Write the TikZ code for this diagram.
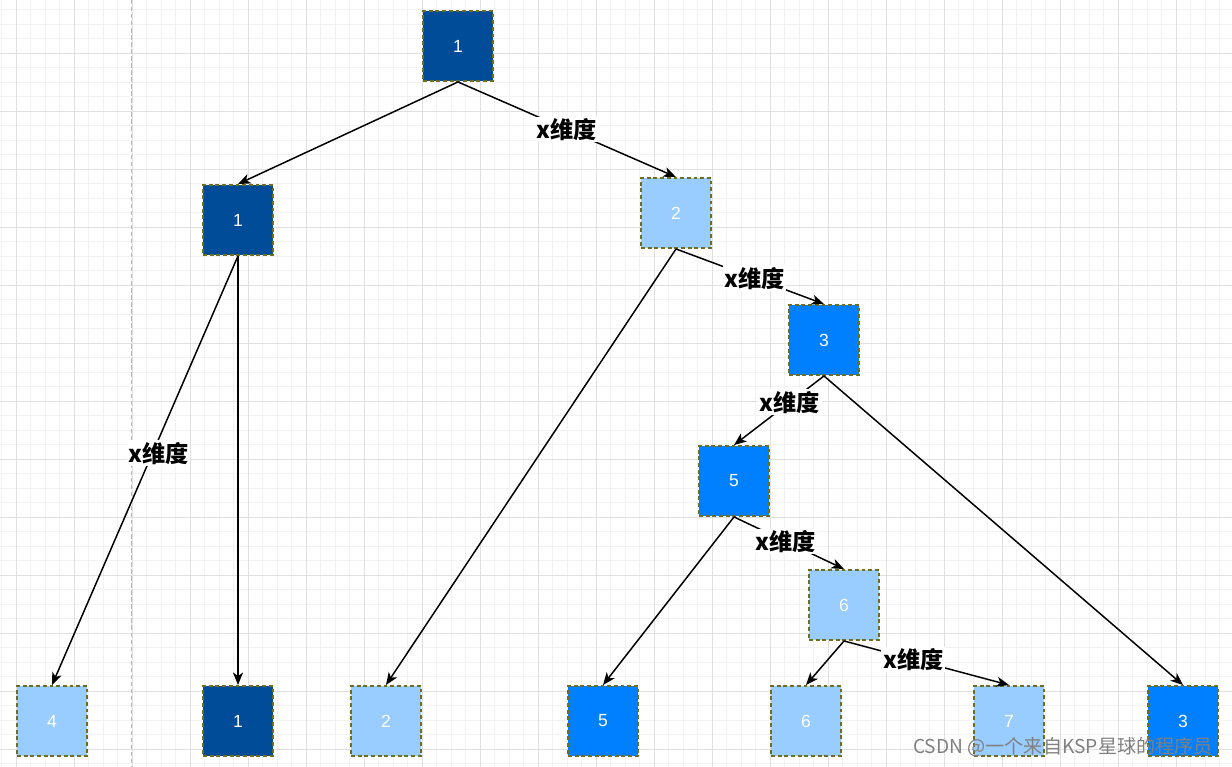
\documentclass[tikz,border=0pt]{standalone}
\usepackage{fontspec}
\setmainfont{Liberation Sans}
\newfontfamily\cjk{Noto Sans CJK SC}
\usepackage{xcolor}
\definecolor{kdDark}{HTML}{004C99}
\definecolor{kdLight}{HTML}{99CCFF}
\definecolor{kdMid}{HTML}{007FFF}
\definecolor{kdRim}{HTML}{6E6E1E}
\definecolor{gridMinor}{HTML}{F2F2F2}
\definecolor{gridMajor}{HTML}{E0E0E0}
\usetikzlibrary{arrows.meta}

\begin{document}
\begin{tikzpicture}[x=0.02cm, y=-0.02cm,
  >={Stealth[length=0.25cm, width=0.2cm, inset=0.07cm]},
  box/.style={draw=kdRim, dash pattern=on 2.2pt off 1.6pt, line width=1.1pt,
    minimum size=1.4cm, inner sep=0pt, text=white,
    font=\fontsize{10}{12}\selectfont},
  link/.style={->, line width=0.85pt},
  dim/.style={fill=white, inner sep=1pt,
    font=\cjk\bfseries\fontsize{13.2}{15}\selectfont}]
  \useasboundingbox (0,0) rectangle (1232,767);
  \fill[white] (0,0) rectangle (1232,767);
  % background grid
  \begin{scope}
    \clip (0,0) rectangle (1232,767);
    \foreach \i in {0,...,84} \draw[gridMinor, line width=0.55pt] ({1.5+14.5*\i},0) -- ({1.5+14.5*\i},767);
    \foreach \j in {0,...,52} \draw[gridMinor, line width=0.55pt] (0,{9.8+14.5*\j}) -- (1232,{9.8+14.5*\j});
    \foreach \i in {0,...,21} \draw[gridMajor, line width=0.55pt] ({16+58*\i},0) -- ({16+58*\i},767);
    \foreach \j in {0,...,13} \draw[gridMajor, line width=0.55pt] (0,{-4.7+58*\j}) -- (1232,{-4.7+58*\j});
  \end{scope}
  \draw[black!28, line width=0.6pt, dash pattern=on 2.5pt off 1.5pt] (131.5,0) -- (131.5,767);
  % tree
  \node[box, fill=kdDark]  (r1) at (458,46)  {1};
  \node[box, fill=kdDark]  (a1) at (238,220) {1};
  \node[box, fill=kdLight] (a2) at (676,213) {2};
  \node[box, fill=kdMid]   (b3) at (824,340) {3};
  \node[box, fill=kdMid]   (c5) at (734,481) {5};
  \node[box, fill=kdLight] (d6) at (844,605) {6};
  % leaves
  \node[box, fill=kdLight] (l4) at (52,721)   {4};
  \node[box, fill=kdDark]  (l1) at (238,721)  {1};
  \node[box, fill=kdLight] (l2) at (386,721)  {2};
  \node[box, fill=kdMid]   (l5) at (603,721)  {5};
  \node[box, fill=kdLight] (l6) at (806,721)  {6};
  \node[box, fill=kdLight] (l7) at (1009,721) {7};
  \node[box, fill=kdMid]   (l3) at (1183,721) {3};
  % splits
  \draw[link] (r1.south) -- (a1.north);
  \draw[link] (r1.south) -- node[dim, pos=0.5] {x维度} (a2.north);
  \draw[link] (a1.south) -- node[dim, pos=0.46, xshift=0.12cm] {x维度} (l4.north);
  \draw[link] (a1.south) -- (l1.north);
  \draw[link] (a2.south) -- (l2.north);
  \draw[link] (a2.south) -- node[dim, pos=0.53] {x维度} (b3.north);
  \draw[link] (b3.south) -- node[dim, pos=0.38] {x维度} (c5.north);
  \draw[link] (b3.south) -- (l3.north);
  \draw[link] (c5.south) -- (l5.north);
  \draw[link] (c5.south) -- node[dim, pos=0.47] {x维度} (d6.north);
  \draw[link] (d6.south) -- (l6.north);
  \draw[link] (d6.south) -- node[dim, pos=0.42] {x维度} (l7.north);
  % watermark
  \node[text=black!50, font=\cjk\fontsize{10.9}{13}\selectfont] (mark) at (1063,747) {CSDN @一个来自KSP星球的程序员};
\end{tikzpicture}
\end{document}
